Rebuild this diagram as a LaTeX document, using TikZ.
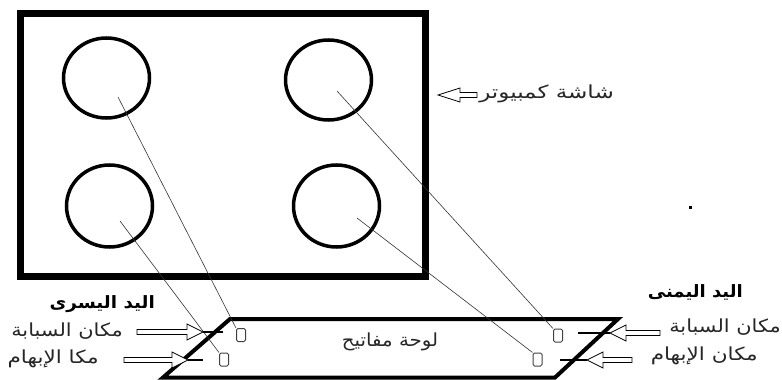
\documentclass[tikz,border=0pt]{standalone}
\usepackage{fontspec}
\usepackage{graphicx}
\newfontfamily\arabicfont[Script=Arabic]{DejaVu Sans}
\TeXXeTstate=1
\begin{document}
\begin{tikzpicture}[x=1pt,y=-1pt,
  lbl/.style={inner sep=0pt,text=black!85,font=\arabicfont\fontsize{18}{20}\selectfont},
  blbl/.style={inner sep=0pt,font=\arabicfont\bfseries\fontsize{17}{20}\selectfont},
  keybox/.style={draw=black!75,line width=1pt,rounded corners=1.5pt,minimum width=9pt,minimum height=13pt,inner sep=0pt},
  ring/.style={line width=3.5pt},
  wire/.style={line width=0.6pt,black!80},
  stub/.style={line width=1.6pt},
  pics/harrow/.style args={#1/#2/#3}{code={
    \draw[line width=0.8pt,fill=white] (0,0) -- (-#2,#3) -- (-#2,2.5) -- (-#1,2.5) -- (-#1,-2.5) -- (-#2,-2.5) -- (-#2,-#3) -- cycle;}}
]
\useasboundingbox (0,0) rectangle (782,380);
% screen
\draw[line width=7pt] (20,13) rectangle (425,276);
\draw[ring] (106.5,78) ellipse (43 and 40);
\draw[ring] (328.5,80) ellipse (43 and 40);
\draw[ring] (109.5,206) ellipse (43 and 41);
\draw[ring] (336.5,206) ellipse (43 and 41);
\coordinate (c1) at (118,97);
\coordinate (c2) at (337,91);
\coordinate (c3) at (120,221);
\coordinate (c4) at (357,218);
% keyboard
\draw[line width=4pt,line join=miter] (230,319) -- (618,319) -- (555,377.5) -- (163,377.5) -- cycle;
\node[keybox] (k1) at (241,335) {};
\node[keybox] (k2) at (224,359.5) {};
\node[keybox] (k3) at (558,335.5) {};
\node[keybox] (k4) at (537.5,359.5) {};
\draw[wire] (c1) -- (k1.north west);
\draw[wire] (c3) -- (k2.north west);
\draw[wire] (c2) -- (k3.north west);
\draw[wire] (c4) -- (k4.north west);
\node[lbl] (kb) at (390,342) {\scalebox{1.1}[1]{\beginR لوحة مفاتيح\endR}};
% screen label
\node[lbl,anchor=east] (scr) at (614,94) {\scalebox{1.28}[1]{\beginR شاشة كمبيوتر\endR}};
\pic at (438,95) [xscale=-1] {harrow=39/22/7};
% left hand
\node[blbl,anchor=east] (lh) at (155,304) {\scalebox{1.08}[1]{\beginR اليد اليسرى\endR}};
\node[lbl,anchor=east] (l1) at (123,331) {\scalebox{1.16}[1]{\beginR مكان السبابة\endR}};
\node[lbl,anchor=east] (l2) at (99,359) {\scalebox{1.2}[1]{\beginR مكا الإبهام\endR}};
\coordinate (a1) at (203,332);
\coordinate (a2) at (188,360);
\coordinate (e1) at (223,332);
\coordinate (e2) at (203,360);
\draw[stub] (a1) -- (e1);
\draw[stub] (a2) -- (e2);
\pic at (a1) {harrow=66/16/8};
\pic at (a2) {harrow=64/16/8};
% right hand
\node[blbl,anchor=east] (rh) at (743,292) {\scalebox{1.06}[1]{\beginR اليد اليمنى\endR}};
\node[lbl,anchor=east] (r1) at (781,327) {\scalebox{1.16}[1]{\beginR مكان السبابة\endR}};
\node[lbl,anchor=east] (r2) at (758,356) {\scalebox{1.2}[1]{\beginR مكان الإبهام\endR}};
\coordinate (b1) at (610,333);
\coordinate (b2) at (587,360);
\coordinate (f1) at (578,333);
\coordinate (f2) at (560,360);
\draw[stub] (b1) -- (f1);
\draw[stub] (b2) -- (f2);
\pic at (b1) [xscale=-1] {harrow=50/16/8};
\pic at (b2) [xscale=-1] {harrow=45/16/8};
% stray dot
\fill (689,205.5) rectangle (691.5,209);
\end{tikzpicture}
\end{document}
